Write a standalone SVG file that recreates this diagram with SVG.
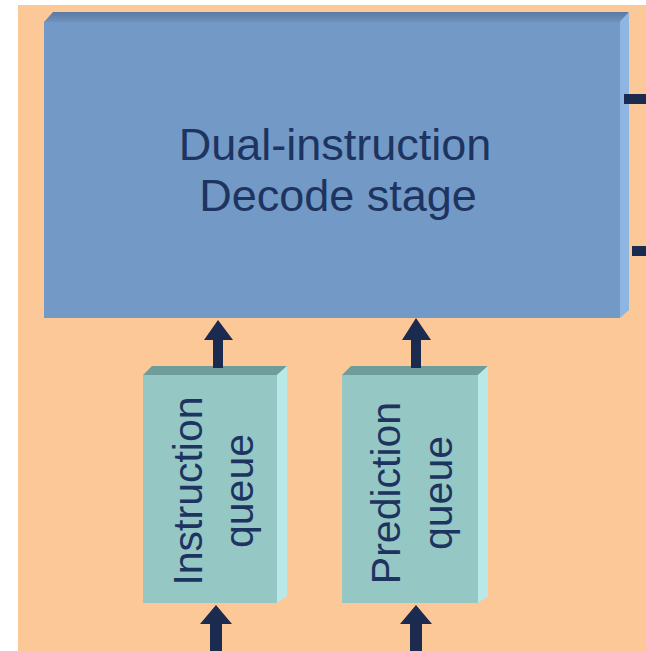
<svg xmlns="http://www.w3.org/2000/svg" width="646" height="651" viewBox="0 0 646 651">
<defs>
<style>
.lbl{font-family:"Liberation Sans",Arial,sans-serif;fill:#1e3460;text-anchor:middle}
.arrow{fill:#1b2b50}
.bfront{fill:#7399c6}
.btop{fill:url(#gTopB)}
.bside{fill:#8fb5e3}
.qfront{fill:#95c7c5}
.qtop{fill:#6f9d9c}
.qside{fill:#b8e8e8}
</style>
<linearGradient id="gTopB" x1="0" y1="0" x2="0" y2="1">
<stop offset="0" stop-color="#5a7aa3"/>
<stop offset="1" stop-color="#6d91bd"/>
</linearGradient>
</defs>
<rect x="0" y="0" width="646" height="651" fill="#ffffff"/>
<rect x="18" y="5" width="628" height="646" fill="#fdc897"/>

<g id="decode-stage">
<polygon class="btop" points="44,22 53,12 629,12 620,22"/>
<polygon class="bside" points="620,22 629,12 629,310 620,318"/>
<rect class="bfront" x="44" y="22" width="576" height="296"/>
<text class="lbl" x="335" y="160" font-size="45">Dual-instruction</text>
<text class="lbl" x="338" y="211" font-size="45">Decode stage</text>
</g>

<g id="instruction-queue">
<polygon class="qtop" points="143,375 152,366 287,366 277,375"/>
<polygon class="qside" points="277,375 287,366 287,596 277,603"/>
<rect class="qfront" x="143" y="375" width="134" height="228"/>
<g transform="translate(202,491) rotate(-90)">
<text class="lbl" x="0" y="0" font-size="41">Instruction</text>
<text class="lbl" x="0" y="51" font-size="41">queue</text>
</g>
</g>

<g id="prediction-queue">
<polygon class="qtop" points="342,375 351,366 488,366 478,375"/>
<polygon class="qside" points="478,375 488,366 488,596 478,603"/>
<rect class="qfront" x="342" y="375" width="136" height="228"/>
<g transform="translate(400,493) rotate(-90)">
<text class="lbl" x="0" y="0" font-size="41">Prediction</text>
<text class="lbl" x="0" y="52" font-size="41">queue</text>
</g>
</g>

<g id="connectors">
<path class="arrow" d="M213,368 V340 H204 L218,320 L233,340 H223 V368 Z"/>
<path class="arrow" d="M411,368 V340 H402 L416,318 L431,340 H421 V368 Z"/>
<path class="arrow" d="M210,651 V624 H200 L216,605 L232,624 H222 V651 Z"/>
<path class="arrow" d="M410,651 V624 H400 L416,605 L432,624 H422 V651 Z"/>
<rect class="arrow" x="624" y="94" width="22" height="10"/>
<rect class="arrow" x="632" y="246" width="14" height="10"/>
</g>
</svg>
